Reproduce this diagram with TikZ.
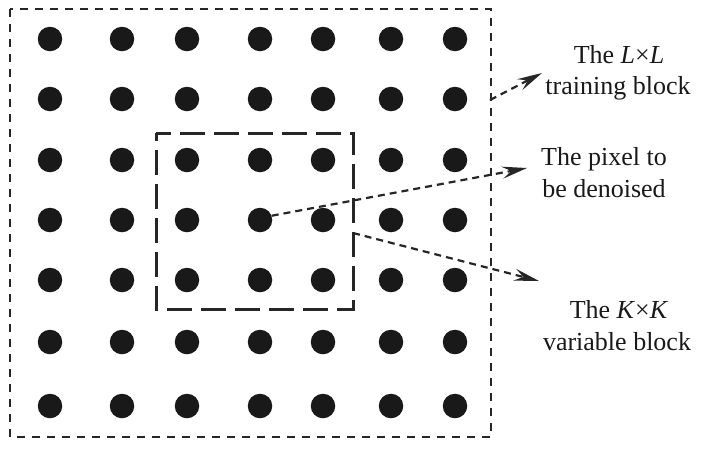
\documentclass[tikz,border=0pt]{standalone}
\usepackage{fontspec}
\setmainfont{Liberation Serif}
\usetikzlibrary{arrows.meta}
\begin{document}
\begin{tikzpicture}[x=1pt,y=-1pt,
  dot/.style={circle,fill=black!90,inner sep=0pt,minimum size=24.5pt},
  outerbox/.style={draw=black!85,line width=2.2pt,dash pattern=on 8pt off 7pt},
  innerbox/.style={draw=black!85,line width=3pt,dash pattern=on 25pt off 9pt},
  pointer/.style={draw=black!85,line width=2.2pt,dash pattern=on 7pt off 5pt,
    -{Stealth[length=25pt,width=12pt,inset=9pt]}},
  lbl/.style={font=\fontsize{26}{32}\selectfont,anchor=base,inner sep=0pt,text=black!90}]
\useasboundingbox (0,0) rectangle (707,451);
% outer and inner boxes
\draw[outerbox] (10,9) rectangle (491,437);
\draw[innerbox,dash phase=10pt] (156,133) -- (353,133) -- (353,309) -- (156,309) -- cycle;
% grid of dots
\foreach \x [count=\i] in {50,122,187,260,323,391,455}{
  \foreach \y [count=\j] in {39,99,160,220,280,342,406}{
    \node[dot] (d\i\j) at (\x,\y) {};
  }
}
% labels
\node[lbl] (la1) at (619,63) {The \textit{L}×\textit{L}};
\node[lbl] (la2) at (618,94) {training block};
\node[lbl] (lb1) at (604,165) {The pixel to};
\node[lbl] (lb2) at (604,197) {be denoised};
\node[lbl] (lc1) at (619,318) {The \textit{K}×\textit{K}};
\node[lbl] (lc2) at (617,350) {variable block};
% connector end points
\coordinate (sa) at (490,100);
\coordinate (ta) at (542,73);
\coordinate (tb) at (527,168);
\coordinate (sc) at (353,233);
\coordinate (tc) at (539,281);
\draw[pointer] (sa) -- (ta);
\draw[pointer] (d44.20) -- (tb);
\draw[pointer] (sc) -- (tc);
\end{tikzpicture}
\end{document}
